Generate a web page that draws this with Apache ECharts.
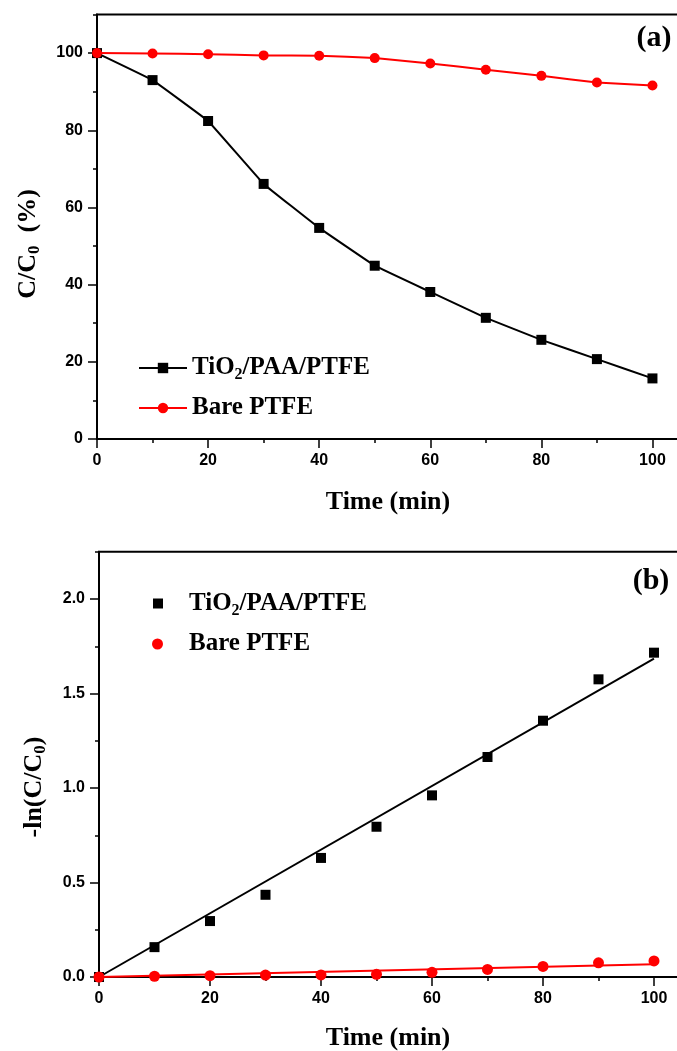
<!DOCTYPE html>
<html><head><meta charset="utf-8">
<script src="https://cdn.jsdelivr.net/npm/echarts@6/dist/echarts.min.js"></script>
<style>html,body{margin:0;padding:0;background:#fff}#c{width:677px;height:1051px}</style>
</head><body><div id="c"></div>
<script>
// ---- data ----
const timeMin   = [0, 10, 20, 30, 40, 50, 60, 70, 80, 90, 100];
const ratioTiO2 = [100, 93.0, 82.4, 66.1, 54.7, 44.9, 38.1, 31.4, 25.7, 20.7, 15.7];
const ratioBare = [100, 99.9, 99.7, 99.4, 99.3, 98.7, 97.3, 95.7, 94.1, 92.4, 91.6];
const lnTiO2    = [0, 0.158, 0.296, 0.435, 0.630, 0.795, 0.961, 1.164, 1.356, 1.575, 1.716];
const lnBare    = [0, 0.004, 0.007, 0.010, 0.011, 0.014, 0.025, 0.040, 0.056, 0.075, 0.085];
const fitTime   = [0, 100];
const fitTiO2   = [0, 1.685];
const fitBare   = [0, 0.067];
const majorTicksX  = [0, 20, 40, 60, 80, 100];
const majorTicksYa = [0, 20, 40, 60, 80, 100];
const majorTicksYb = [0, 0.5, 1.0, 1.5, 2.0];

const SERIF = "'Liberation Serif','Times New Roman',serif";
const SANS = "'Liberation Sans',Arial,sans-serif";
const BLACK = '#000000', RED = '#ff0000';
const pair = (xs, ys) => xs.map((x, i) => [x, ys[i]]);

const legendRich = {
  a: {fontFamily: SERIF, fontWeight: 'bold', fontSize: 25, color: BLACK},
  s: {fontFamily: SERIF, fontWeight: 'bold', fontSize: 16, color: BLACK, padding: [14, 0, 0, 0]},
  p: {fontFamily: SERIF, fontWeight: 'bold', fontSize: 25, color: BLACK, padding: [0, 0, 0, 21]}
};
const gRich = {
  a: {fontFamily: SERIF, fontWeight: 'bold', fontSize: 26, fill: BLACK},
  s: {fontFamily: SERIF, fontWeight: 'bold', fontSize: 17, fill: BLACK, padding: [14, 0, 0, 0]}
};

const labelStyle = {fontFamily: SANS, fontWeight: 'bold', fontSize: 16, color: BLACK, margin: 14};
function minorAxis(grid, max, interval, pos, fmt) {
  return {type: 'value', gridIndex: grid, min: 0, max: max, interval: interval, position: pos,
    axisLine: {show: true, onZero: false, lineStyle: {color: BLACK, width: 2}},
    axisTick: {show: true, inside: false, length: 4, lineStyle: {color: BLACK, width: 1.5}},
    axisLabel: Object.assign({formatter: fmt, showMaxLabel: true}, labelStyle),
    splitLine: {show: false}};
}
function majorAxis(grid, max, pos, ticks) {
  return {type: 'value', gridIndex: grid, min: 0, max: max, position: pos,
    axisLine: {show: false},
    axisTick: {show: true, inside: false, length: 9, customValues: ticks, lineStyle: {color: BLACK, width: 1.5}},
    axisLabel: {show: false}, splitLine: {show: false}};
}
const fmtX = v => (Math.round(v) % 20 === 0 && v <= 100) ? String(Math.round(v)) : '';
const fmtYa = v => (Math.round(v) % 20 === 0 && v <= 100) ? String(Math.round(v)) : '';
const fmtYb = v => (Math.abs(v * 2 - Math.round(v * 2)) < 1e-6 && v <= 2.0001) ? v.toFixed(1) : '';

const gridBase = {show: true, borderColor: BLACK, borderWidth: 2, backgroundColor: 'transparent', containLabel: false, outerBoundsMode: 'none'};

const option = {
  animation: false,
  backgroundColor: '#ffffff',
  grid: [
    Object.assign({left: 97, top: 14.5, width: 611, height: 424.5}, gridBase),
    Object.assign({left: 99, top: 551.75, width: 610.5, height: 425.25}, gridBase)
  ],
  xAxis: [
    minorAxis(0, 110, 10, 'bottom', fmtX),
    majorAxis(0, 110, 'bottom', majorTicksX),
    minorAxis(1, 110, 10, 'bottom', fmtX),
    majorAxis(1, 110, 'bottom', majorTicksX)
  ],
  yAxis: [
    minorAxis(0, 110, 10, 'left', fmtYa),
    majorAxis(0, 110, 'left', majorTicksYa),
    minorAxis(1, 2.25, 0.25, 'left', fmtYb),
    majorAxis(1, 2.25, 'left', majorTicksYb)
  ],
  legend: [
    {data: ['aT'], left: 138, top: 355.5, orient: 'vertical', padding: 0, itemWidth: 48, itemHeight: 13,
     selectedMode: false, formatter: () => '{a|TiO}{s|2}{a|/PAA/PTFE}', textStyle: {color: BLACK, rich: legendRich}},
    {data: ['aB'], left: 138, top: 395.5, orient: 'vertical', padding: 0, itemWidth: 48, itemHeight: 13,
     selectedMode: false, formatter: () => '{a|Bare PTFE}', textStyle: {color: BLACK, rich: legendRich}},
    {data: ['bT'], left: 153, top: 591, orient: 'vertical', padding: 0, itemWidth: 10, itemHeight: 10, icon: 'rect',
     selectedMode: false, formatter: () => '{p|TiO}{s|2}{a|/PAA/PTFE}', textStyle: {color: BLACK, rich: legendRich}},
    {data: ['bB'], left: 152, top: 631.5, orient: 'vertical', padding: 0, itemWidth: 11, itemHeight: 11, icon: 'circle',
     selectedMode: false, formatter: () => '{p|Bare PTFE}', textStyle: {color: BLACK, rich: legendRich}}
  ],
  series: [
    {type: 'line', name: 'aT', xAxisIndex: 0, yAxisIndex: 0, data: pair(timeMin, ratioTiO2),
     symbol: 'rect', symbolSize: 10, smooth: 0.05, showAllSymbol: true, clip: false,
     lineStyle: {color: BLACK, width: 2}, itemStyle: {color: BLACK}, z: 3},
    {type: 'line', name: 'aB', xAxisIndex: 0, yAxisIndex: 0, data: pair(timeMin, ratioBare),
     symbol: 'circle', symbolSize: 10, smooth: 0.1, showAllSymbol: true, clip: false,
     lineStyle: {color: RED, width: 2}, itemStyle: {color: RED}, z: 4},
    {type: 'line', name: 'fitT', xAxisIndex: 2, yAxisIndex: 2, data: pair(fitTime, fitTiO2),
     symbol: 'none', lineStyle: {color: BLACK, width: 2}, z: 2},
    {type: 'line', name: 'fitB', xAxisIndex: 2, yAxisIndex: 2, data: pair(fitTime, fitBare),
     symbol: 'none', lineStyle: {color: RED, width: 2}, z: 2},
    {type: 'scatter', name: 'bT', xAxisIndex: 2, yAxisIndex: 2, data: pair(timeMin, lnTiO2),
     symbol: 'rect', symbolSize: 10, clip: false, itemStyle: {color: BLACK, opacity: 1}, z: 3},
    {type: 'scatter', name: 'bB', xAxisIndex: 2, yAxisIndex: 2, data: pair(timeMin, lnBare),
     symbol: 'circle', symbolSize: 11, clip: false, itemStyle: {color: RED, opacity: 1}, z: 4}
  ],
  graphic: [
    {type: 'text', x: 388, y: 502, style: {text: 'Time (min)', fontFamily: SERIF, fontWeight: 'bold', fontSize: 26, fill: BLACK, align: 'center', verticalAlign: 'middle'}},
    {type: 'text', x: 388, y: 1038, style: {text: 'Time (min)', fontFamily: SERIF, fontWeight: 'bold', fontSize: 26, fill: BLACK, align: 'center', verticalAlign: 'middle'}},
    {type: 'text', x: 28, y: 244, rotation: Math.PI / 2, style: {text: '{a|C/C}{s|0}{a|  (%)}', rich: gRich, align: 'center', verticalAlign: 'middle'}},
    {type: 'text', x: 34, y: 787, rotation: Math.PI / 2, style: {text: '{a|-ln(C/C}{s|0}{a|)}', rich: gRich, align: 'center', verticalAlign: 'middle'}},
    {type: 'text', x: 654, y: 38, style: {text: '(a)', fontFamily: SERIF, fontWeight: 'bold', fontSize: 30, fill: BLACK, align: 'center', verticalAlign: 'middle'}},
    {type: 'text', x: 651, y: 581, style: {text: '(b)', fontFamily: SERIF, fontWeight: 'bold', fontSize: 30, fill: BLACK, align: 'center', verticalAlign: 'middle'}}
  ]
};
const chart = echarts.init(document.getElementById('c'), null, {renderer: 'canvas'});
chart.setOption(option);
</script>
</body></html>
